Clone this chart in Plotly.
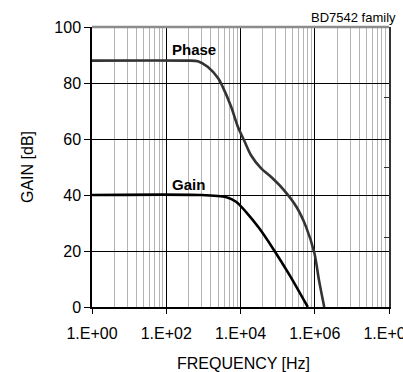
import plotly.graph_objects as go

# ---- data ----
phase_freq = [1, 3.2e2, 7.1e2, 1.3e3, 2.5e3, 3.3e3, 5.6e3, 8.5e3, 1.3e4, 1.9e4,
              3.6e4, 6.6e4, 1.4e5, 3.2e5, 5.8e5, 9.8e5, 1.3e6, 1.8e6]
phase_val = [88, 88, 87.8, 85.8, 81.7, 78.7, 71.5, 64.4, 59.0, 54.3,
             49.5, 46.5, 42.1, 35.8, 28.7, 19.2, 9.6, 0]

gain_freq = [1, 8e2, 4.2e3, 7.6e3, 1.4e4, 3.2e4, 7.4e4, 2.1e5, 6.5e5]
gain_val = [40, 40, 39.2, 37.6, 34.0, 28.1, 21.0, 11.4, 0]

x_tickvals = [1, 1e2, 1e4, 1e6, 1e8]
x_ticktext = ["1.E+00", "1.E+02", "1.E+04", "1.E+06", "1.E+08"]
y_tickvals = [0, 20, 40, 60, 80, 100]
right_tickvals = [25, 50, 75]

# minor gridlines (Excel-style: 2..9 steps spread over each 2-decade major interval)
minor_vals = [(100 ** k) * (m ** 2) for k in range(4) for m in range(2, 10)]

FONT = "Arial, Liberation Sans, sans-serif"

fig = go.Figure()
fig.add_trace(go.Scatter(x=phase_freq, y=phase_val, mode="lines",
                         line=dict(color="#333333", width=2.6, shape="spline", smoothing=0.8),
                         showlegend=False, hoverinfo="skip"))
fig.add_trace(go.Scatter(x=gain_freq, y=gain_val, mode="lines",
                         line=dict(color="#000000", width=2.6, shape="spline", smoothing=0.8),
                         showlegend=False, hoverinfo="skip"))
fig.add_trace(go.Scatter(x=[], y=[], yaxis="y2", showlegend=False))

fig.update_layout(
    width=403, height=372,
    margin=dict(l=92, r=14, t=27, b=65),
    paper_bgcolor="white", plot_bgcolor="white",
    font=dict(family=FONT, color="black", size=16),
    xaxis=dict(
        type="log", range=[0, 8],
        tickmode="array", tickvals=x_tickvals, ticktext=x_ticktext,
        ticks="outside", ticklen=5, tickcolor="black", tickwidth=1.2,
        showline=True, linecolor="black", linewidth=1.5,
        showgrid=True, gridcolor="black", gridwidth=1,
        tickfont=dict(size=16), ticklabelstandoff=6, ticklabeloverflow="allow",
        zeroline=False, automargin=False,
        minor=dict(tickmode="array", tickvals=minor_vals, showgrid=True,
                   gridcolor="#b4b4b4", gridwidth=1, ticks=""),
    ),
    yaxis=dict(
        range=[0, 100], tickmode="array", tickvals=y_tickvals,
        ticks="outside", ticklen=6, tickcolor="black", tickwidth=1.2,
        showline=True, linecolor="black", linewidth=1.5,
        showgrid=True, gridcolor="black", gridwidth=1,
        tickfont=dict(size=16), zeroline=False, automargin=False,
        ticklabeloverflow="allow",
    ),
    yaxis2=dict(
        range=[0, 100], overlaying="y", side="right",
        tickmode="array", tickvals=right_tickvals,
        ticks="inside", ticklen=5, tickcolor="#333333", tickwidth=1.2,
        showticklabels=False, showgrid=False, zeroline=False,
        showline=True, linecolor="#333333", linewidth=1.5, automargin=False,
    ),
    shapes=[
        dict(type="line", xref="paper", yref="paper", x0=0, x1=1, y0=1, y1=1,
             line=dict(color="#8c8c8c", width=2.5)),
    ],
    annotations=[
        dict(text="<b>Phase</b>", x=2.09, y=91.8, xref="x", yref="y",
             xanchor="left", yanchor="middle", showarrow=False, font=dict(size=15)),
        dict(text="<b>Gain</b>", x=2.09, y=43.6, xref="x", yref="y",
             xanchor="left", yanchor="middle", showarrow=False, font=dict(size=15)),
        dict(text="BD7542 family", xref="paper", yref="paper",
             x=(398 - 92) / 297, y=(307 - 18) / 280,
             xanchor="right", yanchor="middle", showarrow=False, font=dict(size=13)),
        dict(text="GAIN [dB]", xref="paper", yref="paper", x=(27 - 92) / 297, y=0.5,
             xanchor="center", yanchor="middle", textangle=-90, showarrow=False,
             font=dict(size=16)),
        dict(text="FREQUENCY [Hz]", xref="paper", yref="paper", x=(243 - 92) / 297,
             y=-(363 - 307) / 280, xanchor="center", yanchor="middle",
             showarrow=False, font=dict(size=16)),
    ],
)

fig.write_html("out.html", config={"displayModeBar": False},
               post_script="document.body.style.margin='0';")
